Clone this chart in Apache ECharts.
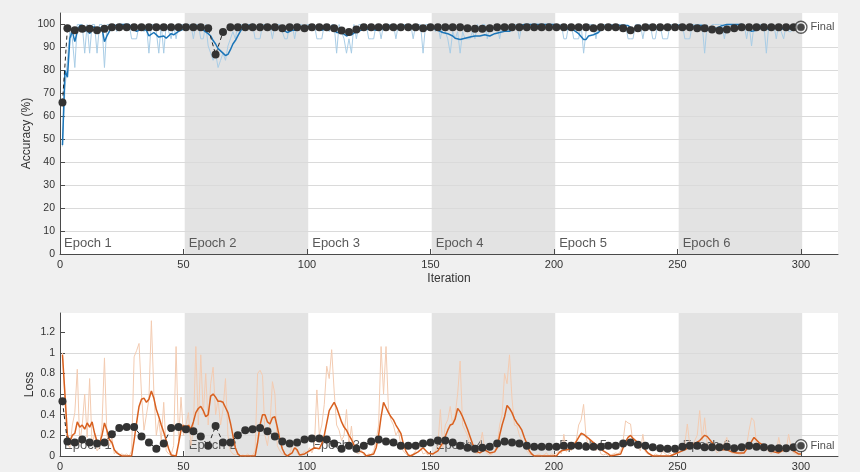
<!DOCTYPE html>
<html>
<head>
<meta charset="utf-8">
<title>Training Progress</title>
<script src="https://cdn.jsdelivr.net/npm/echarts@6/dist/echarts.min.js"></script>
<style>
  html, body { margin: 0; padding: 0; background: #f0f0f0; }
  #chart { width: 860px; height: 472px; }
</style>
</head>
<body>
<div id="chart"></div>
<script>
// ---- Training data (one value per iteration, iterations 1..300) ----
const trainAcc = [
  46.88,71.88,84.38,96.88,93.75,81.25,100,100,100,87.5,100,87.5,100,100,87.5,100,100,81.25,100,100,100,100,96.88,100,100,
  100,100,100,93.75,93.75,93.75,100,100,96.88,100,87.5,100,100,96.88,87.5,100,87.5,100,96.88,93.75,100,93.75,100,100,100,
  100,100,100,93.75,100,100,93.75,93.75,100,90.63,87.5,84.38,87.5,81.25,84.38,87.5,84.38,90.63,93.75,96.88,93.75,100,100,100,100,
  100,100,100,93.75,93.75,93.75,100,100,100,100,93.75,100,100,100,96.88,93.75,93.75,100,100,93.75,100,100,100,96.88,100,
  100,100,100,93.75,93.75,93.75,100,100,96.88,100,100,87.5,100,96.88,93.75,87.5,93.75,87.5,100,93.75,100,100,100,100,93.75,
  93.75,93.75,100,100,93.75,100,100,100,100,100,93.75,100,100,100,100,100,100,93.75,100,100,100,87.5,100,100,100,
  100,96.88,100,93.75,100,96.88,93.75,87.5,96.88,93.75,96.88,87.5,96.88,93.75,93.75,93.75,96.88,93.75,100,96.88,100,100,93.75,100,96.88,
  100,100,93.75,100,100,100,96.88,100,100,100,93.75,100,100,100,100,100,100,100,100,100,100,100,100,100,100,
  100,100,100,93.75,93.75,100,100,93.75,93.75,93.75,100,87.5,96.88,100,100,100,93.75,100,100,100,100,100,100,100,100,
  100,100,100,100,93.75,93.75,93.75,100,100,100,93.75,100,100,100,93.75,93.75,100,100,93.75,93.75,93.75,100,100,100,100,
  100,100,93.75,93.75,93.75,100,100,100,100,100,87.5,100,96.88,100,100,100,100,100,93.75,100,100,100,100,100,100,
  100,100,93.75,100,90.63,100,100,100,100,100,87.5,100,100,100,93.75,100,96.88,93.75,100,96.88,96.88,100,100,100,100
];

const trainLoss = [
  1.0,0.52,0.12,0.08,0.3,0.42,0.84,0.12,0.3,0.6,0.18,0.75,0.1,0.22,0.05,0.08,0.3,0.95,0.2,0.1,0.18,0.02,0.05,0.01,0.02,
  0.01,0.02,0.0,0.05,0.96,1.02,1.09,0.6,0.25,0.4,0.55,1.31,0.62,0.2,0.35,0.15,0.52,0.05,0.02,0.01,0.1,1.06,0.15,0.57,0.2,
  0.3,0.42,0.1,0.25,1.06,0.3,0.98,0.4,0.8,0.3,0.7,0.86,0.4,0.55,0.3,0.45,0.75,0.2,0.05,0.02,0.01,0.02,0.0,0.01,0.0,
  0.02,0.0,0.01,0.05,0.8,0.83,0.78,0.2,0.1,0.3,0.72,0.6,0.1,0.05,0.02,0.01,0.0,0.02,0.1,0.15,0.03,0.0,0.01,0.05,0.02,
  0.08,0.03,0.1,0.64,0.2,0.3,0.5,0.87,0.75,1.03,0.63,0.3,0.25,0.15,0.2,0.45,0.1,0.29,0.05,0.03,0.02,0.06,0.01,0.0,0.02,
  0.01,0.05,0.15,0.3,1.06,0.6,1.06,0.45,0.35,0.3,0.2,0.25,0.1,0.05,0.02,0.0,0.01,0.02,0.05,0.12,0.08,0.02,0.03,0.01,0.02,
  0.01,0.05,0.1,0.45,0.08,0.3,0.35,0.48,0.3,0.4,0.6,0.92,0.3,0.25,0.2,0.1,0.05,0.03,0.02,0.1,0.23,0.05,0.02,0.01,0.02,
  0.05,0.1,0.3,0.4,0.8,0.7,0.98,0.56,0.3,0.29,0.2,0.15,0.08,0.05,0.02,0.01,0.0,0.01,0.02,0.0,0.01,0.03,0.0,0.02,0.01,
  0.03,0.05,0.02,0.21,0.04,0.08,0.05,0.12,0.15,0.3,0.35,0.5,0.18,0.1,0.12,0.08,0.05,0.1,0.02,0.01,0.02,0.0,0.01,0.02,0.03,
  0.02,0.05,0.15,0.34,0.32,0.31,0.12,0.1,0.08,0.05,0.21,0.04,0.02,0.01,0.0,0.02,0.01,0.0,0.05,0.02,0.01,0.03,0.0,0.05,0.02,
  0.08,0.05,0.12,0.31,0.1,0.08,0.15,0.2,0.44,0.15,0.37,0.12,0.1,0.05,0.08,0.03,0.05,0.1,0.12,0.18,0.05,0.03,0.02,0.04,0.01,
  0.02,0.05,0.1,0.25,0.37,0.34,0.12,0.08,0.1,0.05,0.08,0.04,0.02,0.05,0.03,0.18,0.05,0.04,0.06,0.21,0.08,0.03,0.02,0.01,0.02
];

// ---- Smoothed training curves, [iteration, value] ----
const smoothAcc = [
  [1,47.5],[2,80],[3,77],[4,94],[5,97],[6,92.5],[7,97],[8,99.5],[9,99.5],[10,97],[11,98],[12,96],[13,98.5],[14,99],
  [15,96.5],[16,98.5],[17,98.5],[18,92.5],[19,95],[20,97],[21,98.5],[22,99.5],[24,100],[28,100],[29,98.5],[31,97],
  [33,98],[35,97.5],[36,95],[38,96.5],[40,94.5],[42,95],[43,94],[45,96],[46,95.5],[48,97],[50,98],[52,99],[54,98.5],
  [56,99],[58,97.5],[60,96],[61,95],[62,93],[63,91.5],[64,89.5],[65,88.5],[66,87.5],[67,86.5],[68,87],[69,89],
  [70,91.5],[71,93],[72,95],[73,97],[74,98.5],[76,99.5],[78,100],[80,98.5],[82,98.5],[84,99.5],[86,98],[88,99],
  [90,98],[92,96.5],[94,97.5],[96,97.5],[98,99],[100,99],[102,99.5],[104,99],[106,97.5],[108,98.5],[110,99],
  [112,96.5],[114,96.5],[116,95],[117,95.5],[118,95.5],[120,97],[122,97.5],[124,98],[126,98],[128,97.5],[130,98],
  [132,99],[134,99.5],[136,98.5],[138,99],[140,99.5],[142,99.5],[144,98.5],[146,99],[147,97.5],[149,98],[151,98.5],
  [153,97.5],[155,96.5],[157,96],[159,95],[160,94],[162,93.5],[164,94],[166,94.5],[168,95],[170,95],[172,95.5],
  [174,95],[176,96],[178,96.5],[180,97],[182,97],[184,98.5],[186,99.5],[188,100],[200,100],[202,99.5],[204,98.5],
  [206,98],[208,97.5],[210,96],[212,93.5],[213,93.5],[214,95],[216,95.5],[218,96.5],[220,99],[222,99.5],[230,99.5],
  [232,98],[234,99],[236,98.5],[238,99],[240,98.5],[242,99],[244,98.5],[246,98],[248,99],[250,99.5],[252,99.5],
  [254,98.5],[256,99],[258,99.5],[260,99.5],[262,97.5],[264,98],[266,98.5],[268,99.5],[270,100],[276,100],
  [278,98.5],[280,97],[282,97.5],[284,98.5],[286,98],[288,98.5],[290,99],[292,98],[294,98.5],[296,98],[298,99],[300,99.5]
];

const smoothLoss = [
  [1,0.98],[2,0.6],[3,0.2],[4,0.14],[5,0.2],[6,0.22],[7,0.33],[8,0.28],[9,0.3],[10,0.26],[11,0.32],[12,0.28],
  [13,0.33],[14,0.22],[15,0.14],[16,0.12],[17,0.2],[18,0.32],[19,0.25],[20,0.16],[21,0.13],[22,0.06],[23,0.03],
  [25,0],[29,0],[30,0.15],[31,0.32],[32,0.48],[33,0.55],[34,0.56],[35,0.52],[36,0.55],[37,0.63],[38,0.56],[39,0.45],
  [40,0.38],[41,0.3],[42,0.23],[43,0.15],[44,0.07],[45,0.01],[47,0],[48,0.12],[49,0.25],[50,0.3],[51,0.26],[52,0.3],
  [53,0.26],[54,0.33],[55,0.42],[56,0.46],[57,0.48],[58,0.44],[59,0.38],[60,0.4],[61,0.58],[62,0.6],[63,0.57],
  [64,0.53],[65,0.53],[66,0.52],[67,0.47],[68,0.42],[69,0.32],[70,0.2],[71,0.08],[72,0.02],[73,0],[79,0],[80,0.13],
  [81,0.3],[82,0.4],[83,0.4],[84,0.33],[85,0.31],[86,0.37],[87,0.38],[88,0.28],[89,0.16],[90,0.07],[91,0.02],[92,0],
  [94,0.03],[95,0.08],[96,0.06],[97,0.01],[99,0.02],[101,0.05],[103,0.08],[105,0.07],[106,0.12],[107,0.2],[108,0.32],
  [109,0.44],[110,0.48],[111,0.52],[112,0.47],[113,0.4],[114,0.33],[115,0.28],[116,0.25],[117,0.2],[118,0.16],
  [119,0.11],[120,0.07],[121,0.05],[123,0.03],[124,0],[127,0.02],[128,0.08],[129,0.2],[130,0.38],[131,0.52],[132,0.47],
  [133,0.42],[134,0.38],[135,0.35],[136,0.3],[137,0.26],[138,0.22],[139,0.12],[140,0.05],[141,0.01],[142,0],[145,0.04],
  [147,0.08],[149,0.03],[151,0.02],[153,0.05],[155,0.13],[157,0.25],[158,0.3],[159,0.31],[160,0.36],[161,0.46],
  [162,0.43],[163,0.38],[164,0.32],[165,0.26],[166,0.19],[167,0.12],[168,0.07],[169,0.04],[170,0.03],[172,0.06],
  [174,0.03],[176,0.04],[177,0.08],[178,0.2],[179,0.3],[180,0.38],[181,0.49],[182,0.46],[183,0.42],[184,0.36],
  [185,0.32],[186,0.29],[187,0.25],[188,0.18],[189,0.12],[190,0.05],[191,0.02],[192,0],[201,0],[202,0.03],[203,0.05],
  [205,0.06],[207,0.07],[208,0.1],[209,0.14],[210,0.18],[211,0.22],[212,0.21],[213,0.19],[214,0.17],[216,0.13],
  [218,0.09],[220,0.05],[222,0.02],[223,0],[227,0.02],[228,0.08],[229,0.14],[230,0.18],[231,0.2],[232,0.17],[234,0.13],
  [236,0.09],[238,0.03],[240,0],[247,0],[249,0.02],[251,0.04],[253,0.06],[255,0.09],[257,0.12],[259,0.15],[261,0.2],
  [262,0.19],[264,0.13],[266,0.07],[268,0.06],[270,0.06],[272,0.04],[274,0.03],[277,0.03],[279,0.1],[281,0.18],
  [283,0.13],[285,0.1],[287,0.07],[289,0.04],[291,0.03],[293,0.06],[295,0.08],[297,0.05],[299,0.02],[300,0.02]
];

// ---- Validation checkpoints ----
const valIters = [
  1,3,6,9,12,15,18,21,24,27,30,33,36,39,42,45,48,51,54,57,60,63,66,69,72,75,78,81,84,87,90,
  93,96,99,102,105,108,111,114,117,120,123,126,129,132,135,138,141,144,147,150,153,156,159,162,165,
  168,171,174,177,180,183,186,189,192,195,198,201,204,207,210,213,216,219,222,225,228,231,234,237,240,
  243,246,249,252,255,258,261,264,267,270,273,276,279,282,285,288,291,294,297,300
];

const valAcc = [
  66.0,
  98.4,97.5,98.1,98.1,97.5,98.1,98.8,98.8,98.8,98.8,
  98.8,98.8,98.8,98.8,98.8,98.8,98.8,98.8,98.8,98.4,
  86.9,96.7,98.8,98.8,98.8,98.8,98.8,98.8,98.8,98.4,
  98.8,98.8,98.4,98.8,98.8,98.8,98.4,97.4,96.7,97.8,
  98.8,98.8,98.8,98.8,98.8,98.8,98.8,98.8,98.4,98.8,
  98.8,98.8,98.8,98.8,98.4,98.1,98.1,98.4,98.8,98.8,
  98.8,98.8,98.8,98.8,98.8,98.8,98.8,98.8,98.8,98.8,
  98.8,98.4,98.8,98.8,98.8,98.4,97.5,98.4,98.8,98.8,
  98.8,98.8,98.8,98.8,98.8,98.4,98.4,97.8,97.4,97.8,
  98.4,98.8,98.8,98.8,98.8,98.8,98.8,98.8,98.8,98.8
];

const valLoss = [
  0.53,
  0.14,0.13,0.16,0.13,0.12,0.13,0.21,0.27,0.28,0.28,
  0.19,0.13,0.07,0.12,0.27,0.28,0.26,0.24,0.19,0.10,
  0.29,0.13,0.13,0.20,0.25,0.26,0.27,0.24,0.19,0.14,
  0.12,0.13,0.16,0.17,0.17,0.16,0.12,0.07,0.10,0.07,
  0.10,0.14,0.16,0.14,0.13,0.10,0.10,0.10,0.12,0.13,
  0.15,0.15,0.13,0.10,0.08,0.07,0.08,0.09,0.12,0.14,
  0.13,0.12,0.10,0.09,0.09,0.09,0.09,0.10,0.10,0.10,
  0.09,0.09,0.09,0.10,0.10,0.12,0.13,0.11,0.10,0.085,
  0.075,0.07,0.07,0.09,0.10,0.10,0.085,0.085,0.085,0.09,
  0.075,0.085,0.10,0.09,0.085,0.075,0.075,0.075,0.085,0.10
];

const finalIter = 300;
const finalAcc = 98.8;
const finalLoss = 0.10;

// ---- Epochs and axis ticks ----
const epochNames = ['Epoch 1', 'Epoch 2', 'Epoch 3', 'Epoch 4', 'Epoch 5', 'Epoch 6'];
const epochStarts = [0, 50.5, 100.5, 150.5, 200.5, 250.5];
const epochEnds = [50.5, 100.5, 150.5, 200.5, 250.5, 300.5];
const iterTicks = [0, 50, 100, 150, 200, 250, 300];
const accTicks = [0, 10, 20, 30, 40, 50, 60, 70, 80, 90, 100];
const lossTicks = [0, 0.2, 0.4, 0.6, 0.8, 1, 1.2];

// ---- Styling ----
const FONT = 'Liberation Sans, Arial, Helvetica, sans-serif';
const C = {
  axis: '#4a4a4a',
  grid: '#dadada',
  band: '#e3e3e3',
  text: '#333333',
  epoch: '#595959',
  accRaw: '#a9cde6',
  accSmooth: '#1b75b8',
  lossRaw: '#f3cbb1',
  lossSmooth: '#d8601f',
  val: '#333333'
};

const chart = echarts.init(document.getElementById('chart'), null, { renderer: 'canvas' });

function epochBands(epochFont) {
  return epochNames.map((name, i) => [
    {
      xAxis: epochStarts[i],
      itemStyle: { color: i % 2 === 1 ? C.band : 'rgba(0,0,0,0)' },
      label: {
        show: true, formatter: name, position: 'insideBottomLeft', distance: 4,
        color: C.epoch, fontFamily: FONT, fontSize: epochFont
      }
    },
    { xAxis: epochEnds[i] }
  ]);
}

function xAxisCfg(gridIndex, withName) {
  return {
    gridIndex, type: 'value', min: 0, max: 315, interval: 50, z: 3,
    name: withName ? 'Iteration' : '', nameLocation: 'middle', nameGap: 19,
    nameMoveOverlap: false,
    nameTextStyle: { color: C.text, fontFamily: FONT, fontSize: 12 },
    axisLine: { show: true, onZero: false, lineStyle: { color: C.axis, width: 1 } },
    axisTick: { show: true, inside: true, length: 5, customValues: iterTicks, lineStyle: { color: C.axis } },
    axisLabel: { customValues: iterTicks, color: C.text, fontFamily: FONT, fontSize: 11, margin: 5 },
    splitLine: { show: false }
  };
}

function yAxisCfg(gridIndex, name, max, interval, ticks, nameGap) {
  return {
    gridIndex, type: 'value', min: 0, max, interval, z: 3,
    name, nameLocation: 'middle', nameGap, nameMoveOverlap: false,
    nameTextStyle: { color: C.text, fontFamily: FONT, fontSize: 12 },
    axisLine: { show: true, lineStyle: { color: C.axis, width: 1 } },
    axisTick: { show: true, inside: true, length: 5, customValues: ticks, lineStyle: { color: C.axis } },
    axisLabel: { customValues: ticks, color: C.text, fontFamily: FONT, fontSize: 10.5, margin: 5 },
    splitLine: { show: true, showMaxLine: false, showMinLine: false, lineStyle: { color: C.grid, width: 1 } }
  };
}

const pairs = (iters, vals) => iters.map((it, i) => [it, vals[i]]);
const perIter = vals => vals.map((v, i) => [i + 1, v]);

function finalMarker(axisIdx, value) {
  return [
    {
      type: 'scatter', xAxisIndex: axisIdx, yAxisIndex: axisIdx, z: 8, silent: true,
      symbol: 'circle', symbolSize: 12,
      itemStyle: { color: 'rgba(255,255,255,0.6)', borderColor: C.val, borderWidth: 1.3 },
      label: {
        show: true, position: 'right', distance: 3, formatter: 'Final',
        color: '#222', fontFamily: FONT, fontSize: 11
      },
      data: [[finalIter, value]]
    },
    {
      type: 'scatter', xAxisIndex: axisIdx, yAxisIndex: axisIdx, z: 9, silent: true,
      symbol: 'circle', symbolSize: 7, itemStyle: { color: C.val },
      data: [[finalIter, value]]
    }
  ];
}

const option = {
  animation: false,
  backgroundColor: '#f0f0f0',
  grid: [
    { left: 60, right: 22, top: 13, height: 241, show: true, backgroundColor: '#ffffff', borderWidth: 0 },
    { left: 60, right: 22, top: 313, height: 144, show: true, backgroundColor: '#ffffff', borderWidth: 0 }
  ],
  xAxis: [xAxisCfg(0, true), xAxisCfg(1, false)],
  yAxis: [
    yAxisCfg(0, 'Accuracy (%)', 105, 10, accTicks, 27),
    yAxisCfg(1, 'Loss', 1.385, 0.2, lossTicks, 24)
  ],
  series: [
    // epoch shading, accuracy panel
    {
      type: 'line', xAxisIndex: 0, yAxisIndex: 0, z: 1, silent: true, symbol: 'none',
      data: [], markArea: { silent: true, data: epochBands(13) }
    },
    // epoch shading, loss panel
    {
      type: 'line', xAxisIndex: 1, yAxisIndex: 1, z: 1, silent: true, symbol: 'none',
      data: [], markArea: { silent: true, data: epochBands(13) }
    },
    {
      name: 'Training accuracy', type: 'line', xAxisIndex: 0, yAxisIndex: 0, z: 4,
      symbol: 'none', lineStyle: { color: C.accRaw, width: 1 }, data: perIter(trainAcc)
    },
    {
      name: 'Smoothed training accuracy', type: 'line', xAxisIndex: 0, yAxisIndex: 0, z: 5,
      symbol: 'none', lineStyle: { color: C.accSmooth, width: 1.5 }, data: smoothAcc
    },
    {
      name: 'Validation accuracy', type: 'line', xAxisIndex: 0, yAxisIndex: 0, z: 6,
      symbol: 'circle', symbolSize: 8, showAllSymbol: true,
      itemStyle: { color: C.val },
      lineStyle: { color: '#222', width: 1, type: [4, 3] },
      data: pairs(valIters, valAcc)
    },
    ...finalMarker(0, finalAcc),
    {
      name: 'Training loss', type: 'line', xAxisIndex: 1, yAxisIndex: 1, z: 4,
      symbol: 'none', lineStyle: { color: C.lossRaw, width: 1 }, data: perIter(trainLoss)
    },
    {
      name: 'Smoothed training loss', type: 'line', xAxisIndex: 1, yAxisIndex: 1, z: 5,
      symbol: 'none', lineStyle: { color: C.lossSmooth, width: 1.5 }, data: smoothLoss
    },
    {
      name: 'Validation loss', type: 'line', xAxisIndex: 1, yAxisIndex: 1, z: 6,
      symbol: 'circle', symbolSize: 8, showAllSymbol: true,
      itemStyle: { color: C.val },
      lineStyle: { color: '#222', width: 1, type: [4, 3] },
      data: pairs(valIters, valLoss)
    },
    ...finalMarker(1, finalLoss)
  ]
};

chart.setOption(option);
</script>
</body>
</html>
